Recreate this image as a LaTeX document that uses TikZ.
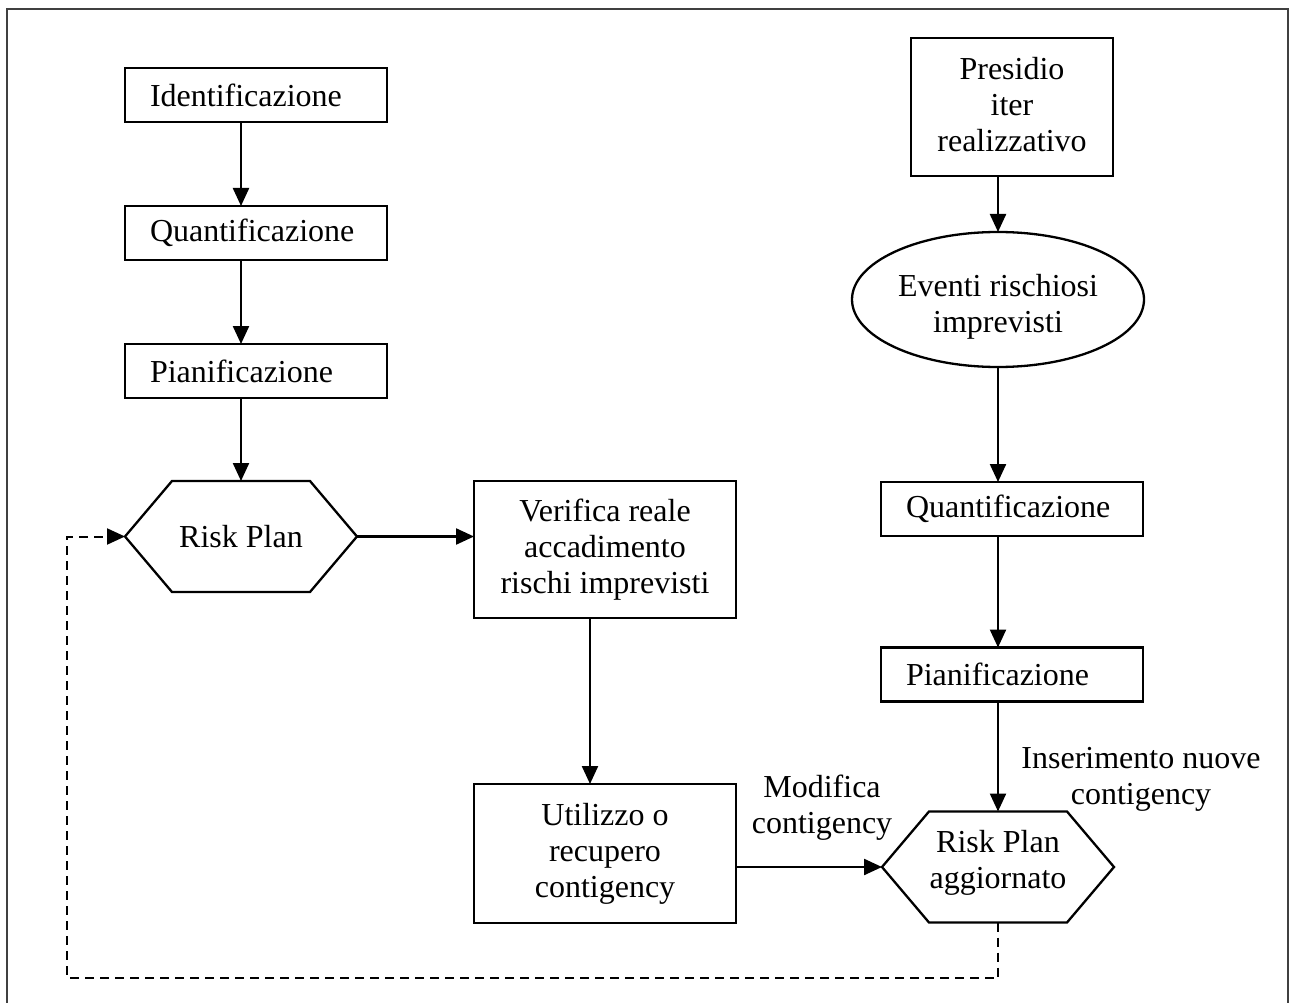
\documentclass[tikz,border=0pt]{standalone}
\usepackage{fontspec}
\setmainfont{Liberation Serif}
\usetikzlibrary{arrows.meta,shapes.geometric}

\begin{document}
\begin{tikzpicture}[x=1pt,y=-1pt,
  font=\fontsize{32}{36}\selectfont,
  line width=2.3pt,
  every node/.style={inner sep=0pt, outer sep=0pt},
  stepbox/.style={draw, rectangle, minimum height=54pt, text width=212pt,
    inner xsep=25pt, align=left},
  tallbox/.style={draw, rectangle, align=center},
  hexslot/.style={minimum width=232pt, minimum height=111pt},
  oval/.style={draw, ellipse, minimum width=292pt, minimum height=135pt},
  caption/.style={align=center},
  arr/.style={-{Triangle[length=18pt 0 0,width=16pt 0 0]}},
  dashline/.style={dash pattern=on 9pt off 6pt}
]
\useasboundingbox (0,0) rectangle (1290,1003);

% outer frame (open at the bottom edge of the page)
\draw[line width=2.2pt, black!75] (7,1010) -- (7,9) -- (1288,9) -- (1288,1010);

% left column
\node[stepbox] (ident) at (256,95) {Identificazione};
\node[stepbox] (quantL) at (256,233) {Quantificazione};
\node[stepbox] (pianL) at (256,371) {Pianificazione};
\node[hexslot] (rp) at (241,536.5) {};
\node[caption] (rpText) at (241,537) {Risk Plan};

% middle column
\node[tallbox, minimum width=262pt, minimum height=137pt] (ver) at (605,549.5)
  {Verifica reale\\accadimento\\rischi imprevisti};
\node[tallbox, minimum width=262pt, minimum height=139pt] (util) at (605,853.5)
  {Utilizzo o\\recupero\\contigency};

% right column
\node[tallbox, minimum width=202pt, minimum height=138pt] (pres) at (1012,107) {};
\node[caption] (presText) at (1012,104.5) {Presidio\\iter\\realizzativo};
\node[oval] (ev) at (998,299.5) {};
\node[caption] (evText) at (998,307) {Eventi rischiosi\\imprevisti};
\node[stepbox] (quantR) at (1012,509) {Quantificazione};
\node[stepbox] (pianR) at (1012,674.5) {Pianificazione};
\node[hexslot] (rp2) at (998,867) {};
\node[caption] (rp2Text) at (998,862.5) {Risk Plan\\aggiornato};

% hexagon outlines
\foreach \h in {rp,rp2}{
  \draw (\h.west) -- ([xshift=47pt]\h.north west) -- ([xshift=-47pt]\h.north east)
    -- (\h.east) -- ([xshift=-47pt]\h.south east) -- ([xshift=47pt]\h.south west) -- cycle;
}

% labels
\node[caption] (lblMod) at (822,807.5) {Modifica\\contigency};
\node[caption] (lblIns) at (1141,779.5) {Inserimento nuove\\contigency};

% connectors
\draw[arr] (ident.south -| rp.north) -- (quantL.north -| rp.north);
\draw[arr] (quantL.south -| rp.north) -- (pianL.north -| rp.north);
\draw[arr] (pianL.south -| rp.north) -- (rp.north);
\draw[arr] (rp.east) -- (rp.east -| ver.west);
\draw[arr] ([xshift=-15pt]ver.south) -- ([xshift=-15pt]util.north);
\draw[arr] (util.east |- rp2.west) -- (rp2.west);

\draw[arr] (pres.south -| ev.north) -- (ev.north);
\draw[arr] (ev.south) -- (quantR.north -| ev.south);
\draw[arr] (quantR.south -| ev.south) -- (pianR.north -| ev.south);
\draw[arr] (pianR.south -| rp2.north) -- (rp2.north);

% dashed feedback loop
\coordinate (loopBL) at (67,978);
\draw[arr, dashline, line width=2pt] (rp2.south) |- (loopBL) |- (rp.west);
\end{tikzpicture}
\end{document}
